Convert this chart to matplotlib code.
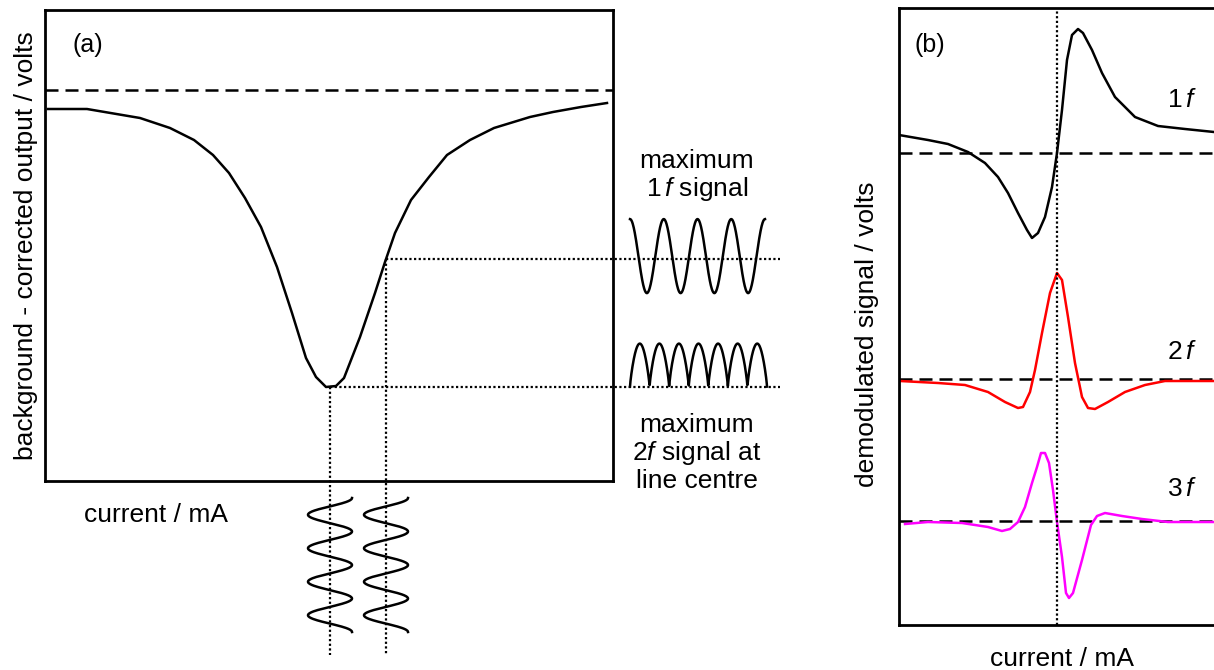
import numpy as np
import matplotlib
matplotlib.use("Agg")
import matplotlib.pyplot as plt

plt.rcParams['font.family'] = ['Liberation Sans', 'DejaVu Sans']
plt.rcParams['mathtext.fontset'] = 'custom'
plt.rcParams['mathtext.rm'] = 'Liberation Sans'
plt.rcParams['mathtext.it'] = 'Liberation Sans:italic'

# ---------------- data: panel (a) absorption line (arbitrary units) -------------
current_a = [3, 42, 95, 125, 149, 168, 184, 200, 216, 232, 247, 261, 271, 281, 291,
             299, 315, 330, 340, 350, 366, 384, 402, 425, 449, 485, 508, 536, 562]
output_a = [372, 372, 363, 353, 341, 326, 308, 283, 254, 214, 168, 123, 104, 94, 95,
            103, 144, 188, 219, 248, 281, 304, 326, 341, 353, 364, 369, 374, 378]
baseline_a = 391
probe_currents = [285, 341]          # line centre, max slope
mod_cycles_vertical = 4
mod_cycles_1f = 4
mod_cycles_2f = 7

# ---------------- data: panel (b) demodulated signals ----------------------------
current_1f = [0, 29, 49, 69, 86, 99, 109, 119, 128, 133, 139, 146, 153, 158, 163, 168,
              173, 179, 184, 193, 203, 216, 236, 259, 286, 315, 330]
signal_1f = [18, 13, 9, 1, -10, -24, -40, -60, -77, -85, -80, -64, -34, 0, 43, 93,
             118, 124, 120, 103, 80, 56, 36, 27, 24, 21, 20]
current_2f = [1, 39, 66, 89, 106, 119, 124, 131, 136, 143, 151, 158, 163, 169, 176,
              183, 189, 196, 209, 226, 246, 266, 330]
signal_2f = [-2, -4, -6, -13, -23, -29, -28, -13, 9, 46, 86, 106, 99, 62, 16,
             -18, -29, -30, -23, -13, -6, -2, -2]
current_3f = [6, 29, 63, 89, 103, 111, 119, 126, 133, 138, 142, 146, 150, 154, 158,
              163, 167, 170, 174, 183, 192, 198, 206, 223, 243, 269, 330]
signal_3f = [-3, -1, -2, -6, -10, -8, -1, 14, 38, 54, 68, 68, 58, 31, -1,
             -36, -72, -77, -72, -39, -4, 5, 8, 5, 2, -1, -1]
offsets_b = [472, 246, 104]
line_centre_b = 158
harmonic_labels = ["1", "2", "3"]
harmonic_colors = ["black", "red", "#ff00ff"]

W, H = 1214, 670
fig = plt.figure(figsize=(W / 100, H / 100), dpi=100)

FS = 19
LW = 1.8
FRAME = 2.0
dashed = (0, (5.2, 2.8))
dotted = (0, (1, 1.1))
DOT_LW = 1.6

# ---------------- panel (a) ----------------
axa = fig.add_axes([45 / W, 1 - 481 / H, 568 / W, 471 / H])
axa.set_xlim(0, 568)
axa.set_ylim(0, 471)
axa.set_xticks([])
axa.set_yticks([])
for s in axa.spines.values():
    s.set_linewidth(FRAME)
axa.plot(current_a, output_a, color="black", lw=LW, solid_joinstyle="round")
axa.axhline(baseline_a, color="black", lw=LW, ls=dashed)
axa.text(27, 436, "(a)", fontsize=FS - 1, ha="left", va="center")
axa.set_ylabel("background - corrected output / volts", fontsize=FS, labelpad=5)
axa.text(39, -34, "current / mA", fontsize=FS, ha="left", va="center")

probe_levels = np.interp(probe_currents, current_a, output_a)
right_end = 735
bottom_end = -174
for pc, pl in zip(probe_currents, probe_levels):
    axa.plot([pc, pc], [pl, bottom_end], color="black", lw=DOT_LW, ls=dotted, clip_on=False)
    axa.plot([pc, right_end], [pl, pl], color="black", lw=DOT_LW, ls=dotted, clip_on=False)
    # vertical modulation waveform below the axis
    yy = np.linspace(-17, -151, 300)
    t = (yy - yy[0]) / (yy[-1] - yy[0])
    xx = pc + 22 * np.cos(2 * np.pi * mod_cycles_vertical * t)
    axa.plot(xx, yy, color="black", lw=LW, clip_on=False)

# 1f response waveform
xs = np.linspace(585, 720, 400)
t = (xs - xs[0]) / (xs[-1] - xs[0])
axa.plot(xs, probe_levels[1] + 3 + 37 * np.cos(2 * np.pi * mod_cycles_1f * t),
         color="black", lw=LW, clip_on=False)
# 2f response waveform
xs2 = np.linspace(585, 722, 600)
t2 = (xs2 - xs2[0]) / (xs2[-1] - xs2[0])
axa.plot(xs2, probe_levels[0] + 43 * np.abs(np.sin(np.pi * mod_cycles_2f * t2)) ** 0.8,
         color="black", lw=LW, clip_on=False)

axa.text(652, 305, "maximum\n1$\\,\\mathit{f}$ signal", fontsize=FS, ha="center",
         va="center", linespacing=1.1)
axa.text(652, 28, "maximum\n2$\\mathit{f}$ signal at\nline centre", fontsize=FS,
         ha="center", va="center", linespacing=1.1)

# ---------------- panel (b) ----------------
axb = fig.add_axes([899 / W, 1 - 625 / H, 326 / W, 617 / H])
axb.set_xlim(0, 326)
axb.set_ylim(0, 617)
axb.set_xticks([])
axb.set_yticks([])
for s in axb.spines.values():
    s.set_linewidth(FRAME)

series = [(current_1f, signal_1f), (current_2f, signal_2f), (current_3f, signal_3f)]
label_y = [525, 273, 136]
for (cx, sy), off, lab, col, ly in zip(series, offsets_b, harmonic_labels,
                                       harmonic_colors, label_y):
    axb.axhline(off, color="black", lw=LW, ls=dashed, zorder=1)
    axb.plot(cx, np.array(sy) + off, color=col, lw=LW, zorder=2, solid_joinstyle="round")
    axb.text(268, ly, lab + "$\\,\\mathit{f}$", fontsize=FS, ha="left", va="center")

axb.axvline(line_centre_b, color="black", lw=DOT_LW, ls=dotted, zorder=3)
axb.text(16, 580, "(b)", fontsize=FS - 1, ha="left", va="center")
axb.set_ylabel("demodulated signal / volts", fontsize=FS, labelpad=9)
axb.yaxis.set_label_coords(-0.062, 0.472)
axb.set_xlabel("current / mA", fontsize=FS, labelpad=16)

fig.savefig("out.png", dpi=100)
